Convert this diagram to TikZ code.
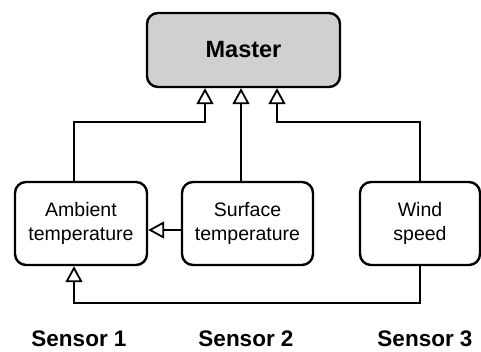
\documentclass[tikz,border=0pt]{standalone}
\usepackage{fontspec}
\setmainfont{Liberation Sans}
\usetikzlibrary{arrows.meta,calc}
\definecolor{mastergray}{HTML}{D0D0D0}
\tikzset{
  unitbox/.style={draw=black, line width=2.4pt, rounded corners=11pt, align=center,
    inner sep=0pt, font=\fontsize{19.5}{24}\selectfont},
  conn/.style={draw=black, line width=2.2pt},
  hollow/.style={conn, -{Triangle[fill=white, length=16pt, width=17pt, line width=1.8pt]}},
  sensorlabel/.style={font=\fontsize{22.5}{26}\selectfont\bfseries, inner sep=0pt},
}
\begin{document}
\begin{tikzpicture}[x=1pt, y=-1pt]
  \useasboundingbox (0,0) rectangle (481,351);

  % central unit
  \node[unitbox, fill=mastergray, minimum width=193pt, minimum height=74pt,
        font=\fontsize{23.5}{27}\selectfont\bfseries] (master) at (243.5,50) {Master};

  % sensor boxes
  \node[unitbox, minimum width=132pt, minimum height=83pt] (amb)  at (81,223.5)  {Ambient\\temperature};
  \node[unitbox, minimum width=131pt, minimum height=83pt] (surf) at (247.5,223.5) {Surface\\temperature};
  \node[unitbox, minimum width=120pt, minimum height=83pt] (wind) at (420,223.5) {Wind\\speed};

  % x positions of the vertical runs
  \coordinate (xa) at (74,0);
  \coordinate (xs) at (241,0);
  \coordinate (xw) at (420,0);
  \coordinate (m1) at (205,0);
  \coordinate (m2) at (241,0);
  \coordinate (m3) at (277,0);

  % links to the master
  \draw[hollow] (amb.north -| xa) -- ++(0,-59) -| (master.south -| m1);
  \draw[hollow] (surf.north -| xs) -- (master.south -| m2);
  \draw[hollow] (wind.north -| xw) -- ++(0,-59) -| (master.south -| m3);

  % links between sensors
  \draw[hollow] ($(surf.west)+(0,6.5)$) -- ($(amb.east)+(0,6.5)$);
  \draw[hollow] (wind.south -| xw) -- ++(0,37) -| (amb.south -| xa);

  % captions
  \node[sensorlabel] (s1) at (79,339)  {Sensor 1};
  \node[sensorlabel] (s2) at (246,339) {Sensor 2};
  \node[sensorlabel] (s3) at (425,339) {Sensor 3};
\end{tikzpicture}
\end{document}
